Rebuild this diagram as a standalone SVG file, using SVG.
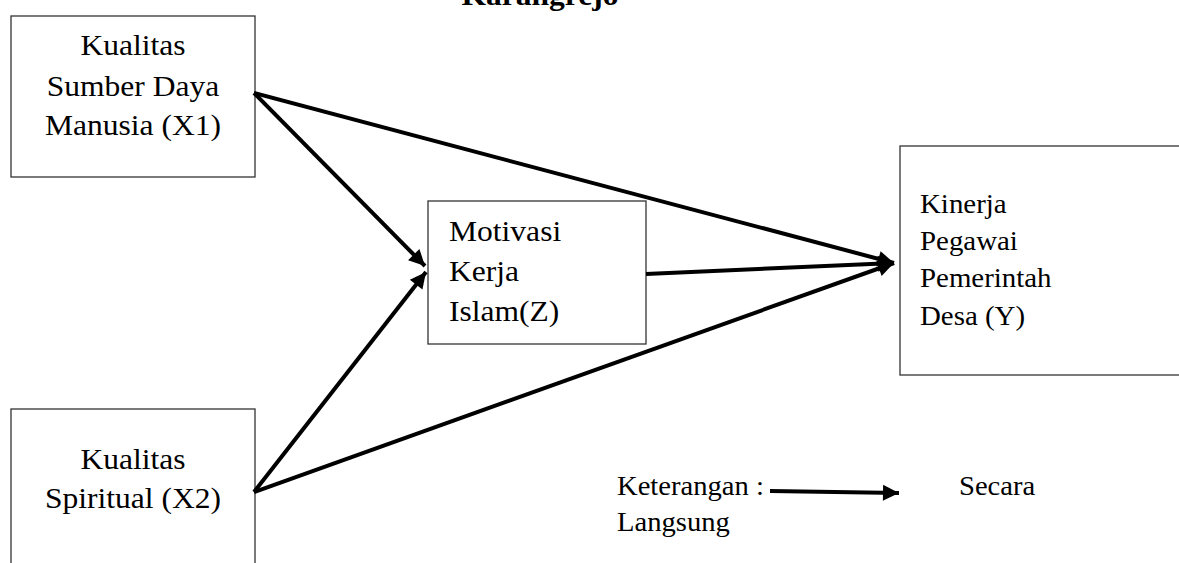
<svg xmlns="http://www.w3.org/2000/svg" width="1179" height="563" viewBox="0 0 1179 563">
<style>
.box{fill:#fff;stroke:#333;stroke-width:1.3}
.t{font-family:"Liberation Serif","Times New Roman",serif;font-size:29.5px;fill:#000}
.ty{font-family:"Liberation Serif","Times New Roman",serif;font-size:27px;fill:#000}
.c{text-anchor:middle}
.ln{stroke:#000;stroke-width:4;fill:none}
</style>
<defs>
<marker id="ah" markerUnits="userSpaceOnUse" markerWidth="20" markerHeight="20" viewBox="0 0 20 20" refX="18" refY="10" orient="auto">
<path d="M2,2 L18,10 L2,18 Z" fill="#000"/>
</marker>
</defs>
<rect width="1179" height="563" fill="#fff"/>
<text transform="translate(540,0) scale(1.07,1)" x="0" y="5" class="t c" font-weight="bold" font-size="29">Karangrejo</text>
<g id="nodeX1">
<rect class="box" x="11" y="16" width="244" height="161"/>
<g transform="translate(133,0) scale(1.07,1)">
<text class="t c" x="0" y="55">Kualitas</text>
<text class="t c" x="0" y="96">Sumber Daya</text>
<text class="t c" x="0" y="135">Manusia (X1)</text>
</g>
</g>
<g id="nodeX2">
<rect class="box" x="11" y="409" width="244" height="170"/>
<g transform="translate(133,0) scale(1.07,1)">
<text class="t c" x="0" y="469">Kualitas</text>
<text class="t c" x="0" y="508">Spiritual (X2)</text>
</g>
</g>
<g id="nodeZ">
<rect class="box" x="428" y="201" width="218" height="143"/>
<g transform="translate(449,0) scale(1.07,1)">
<text class="t" x="0" y="241">Motivasi</text>
<text class="t" x="0" y="281">Kerja</text>
<text class="t" x="0" y="321">Islam(Z)</text>
</g>
</g>
<g id="nodeY">
<rect class="box" x="900" y="146" width="300" height="229"/>
<g transform="translate(920,0) scale(1.07,1)">
<text class="ty" x="0" y="213">Kinerja</text>
<text class="ty" x="0" y="250">Pegawai</text>
<text class="ty" x="0" y="287">Pemerintah</text>
<text class="ty" x="0" y="325">Desa (Y)</text>
</g>
</g>
<g id="connectors">
<line class="ln" x1="254" y1="93" x2="425" y2="266" marker-end="url(#ah)"/>
<line class="ln" x1="254" y1="492" x2="426" y2="272" marker-end="url(#ah)"/>
<line class="ln" x1="254" y1="93" x2="894" y2="263" marker-end="url(#ah)"/>
<line class="ln" x1="646" y1="274" x2="894" y2="263" marker-end="url(#ah)"/>
<line class="ln" x1="254" y1="492" x2="894" y2="263" marker-end="url(#ah)"/>
<line class="ln" x1="770" y1="491" x2="899" y2="493" marker-end="url(#ah)"/>
</g>
<g id="legend">
<g transform="translate(617,0) scale(1.06,1)">
<text class="ty" x="0" y="495">Keterangan :</text>
<text class="ty" x="0" y="531">Langsung</text>
</g>
<text class="ty" transform="translate(959,0) scale(1.06,1)" x="0" y="495">Secara</text>
</g>
</svg>
